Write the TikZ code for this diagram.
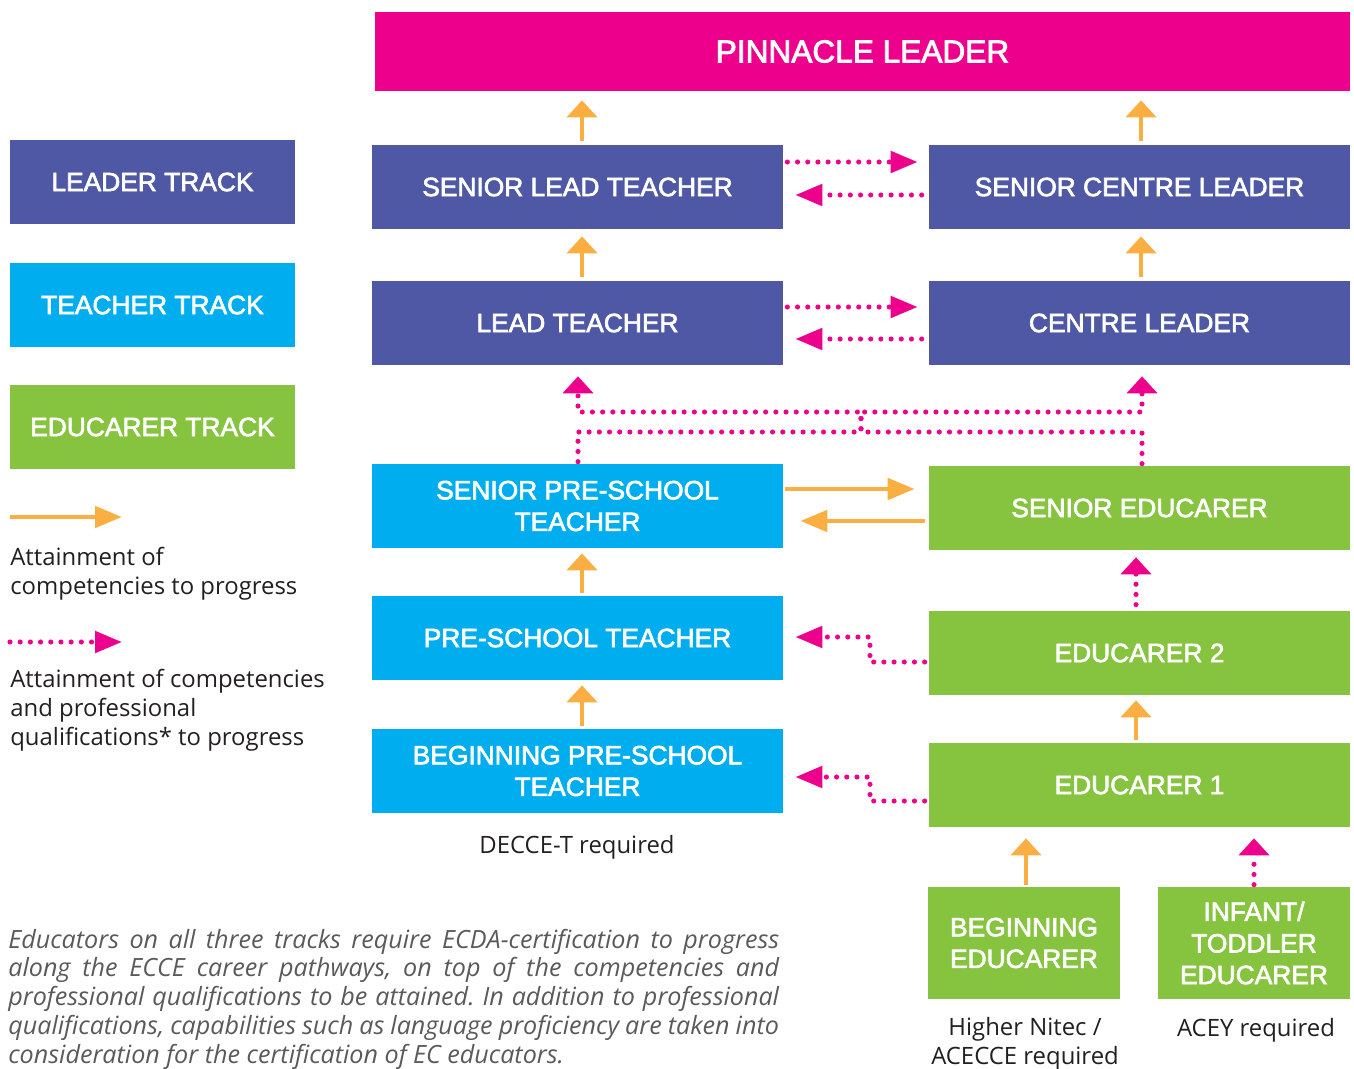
\documentclass[tikz,border=0pt]{standalone}
\usepackage{fontspec}
\setmainfont{Open Sans}
\newfontfamily\boxfont[FakeBold=2.5]{Liberation Sans}
\usetikzlibrary{arrows.meta,calc}
\definecolor{pinkc}{HTML}{EC008C}
\definecolor{leadc}{HTML}{4E58A4}
\definecolor{teachc}{HTML}{00AEEF}
\definecolor{educc}{HTML}{86C440}
\definecolor{orangec}{HTML}{FBAE42}
\definecolor{txtc}{HTML}{231F20}
\definecolor{grayc}{HTML}{5A5A5C}
\newcommand\mkbox[7]{\node[#6, minimum width={(#4-#2)*0.02cm}, minimum height={(#5-#3)*0.02cm}] (#1) at ({(#2+#4)/2},{(#3+#5)/2}) {#7};}
\tikzset{
  box/.style={inner sep=0pt, text=white, align=center, font=\boxfont\fontsize{15}{18}\selectfont},
  pinbox/.style={box, fill=pinkc, font=\boxfont\fontsize{18}{21}\selectfont},
  leadbox/.style={box, fill=leadc},
  teachbox/.style={box, fill=teachc},
  edubox/.style={box, fill=educc},
  oarr/.style={draw=orangec, line width=2.8pt, -{Triangle[length=0.54cm,width=0.42cm]}},
  oup/.style={draw=orangec, line width=2.8pt, -{Triangle[length=0.34cm,width=0.6cm]}},
  pdot/.style={draw=pinkc, line width=2.9pt, line cap=round, dash pattern=on 0pt off 5.8pt},
  parr/.style={pdot, -{Triangle[length=0.54cm,width=0.42cm,fill=pinkc]}},
  pup/.style={pdot, -{Triangle[length=0.34cm,width=0.6cm,fill=pinkc]}},
  lbl/.style={inner sep=0pt, text=txtc, font=\fontsize{13.6}{16.4}\selectfont},
}
\begin{document}
\begin{tikzpicture}[x=0.02cm,y=-0.02cm]
\useasboundingbox (0,0) rectangle (1354,1068);
% boxes
\mkbox{pin}{375}{12}{1350}{91}{pinbox}{PINNACLE LEADER}
\mkbox{trk1}{10}{140}{295}{224}{leadbox}{LEADER TRACK}
\mkbox{trk2}{10}{263}{295}{347}{teachbox}{TEACHER TRACK}
\mkbox{trk3}{10}{385}{295}{469}{edubox}{EDUCARER TRACK}
\mkbox{slt}{372}{145}{783}{229}{leadbox}{SENIOR LEAD TEACHER}
\mkbox{scl}{929}{145}{1350}{229}{leadbox}{SENIOR CENTRE LEADER}
\mkbox{lt}{372}{281}{783}{365}{leadbox}{LEAD TEACHER}
\mkbox{cl}{929}{281}{1350}{365}{leadbox}{CENTRE LEADER}
\mkbox{spst}{372}{464}{783}{548}{teachbox}{SENIOR PRE-SCHOOL\\TEACHER}
\mkbox{se}{929}{466}{1350}{550}{edubox}{SENIOR EDUCARER}
\mkbox{pst}{372}{596}{783}{680}{teachbox}{PRE-SCHOOL TEACHER}
\mkbox{e2}{929}{611}{1350}{695}{edubox}{EDUCARER 2}
\mkbox{bpst}{372}{729}{783}{813}{teachbox}{BEGINNING PRE-SCHOOL\\TEACHER}
\mkbox{e1}{929}{743}{1350}{827}{edubox}{EDUCARER 1}
\mkbox{be}{928}{887}{1120}{999}{edubox}{BEGINNING\\EDUCARER}
\mkbox{it}{1158}{887}{1350}{999}{edubox}{INFANT/\\TODDLER\\EDUCARER}
% vertical orange arrows
\draw[oup, shorten <=0.08cm, shorten >=0.18cm] (slt.north -| 582,0) -- (pin.south -| 582,0);
\draw[oup, shorten <=0.08cm, shorten >=0.18cm] (scl.north -| 1141,0) -- (pin.south -| 1141,0);
\draw[oup, shorten <=0.08cm, shorten >=0.14cm] (lt.north -| 582,0) -- (slt.south -| 582,0);
\draw[oup, shorten <=0.08cm, shorten >=0.14cm] (cl.north -| 1141,0) -- (scl.south -| 1141,0);
\draw[oup, shorten <=0.06cm, shorten >=0.1cm] (pst.north -| 582,0) -- (spst.south -| 582,0);
\draw[oup, shorten <=0.06cm, shorten >=0.1cm] (bpst.north -| 582,0) -- (pst.south -| 582,0);
\draw[oup, shorten <=0.06cm, shorten >=0.1cm] (e1.north -| 1136,0) -- (e2.south -| 1136,0);
\draw[oup, shorten <=0.04cm, shorten >=0.22cm] (be.north -| 1026,0) -- (e1.south -| 1026,0);
% vertical pink arrows
\draw[pup, shorten <=0.12cm, shorten >=0.14cm] (e2.north -| 1136,0) -- (se.south -| 1136,0);
\draw[pup, shorten <=0.04cm, shorten >=0.22cm] (it.north -| 1254,0) -- (e1.south -| 1254,0);
% horizontal pink arrows
\draw[parr, shorten <=0.08cm, shorten >=0.22cm] (slt.east |- 0,162) -- (scl.west |- 0,162);
\draw[parr, shorten <=0.14cm, shorten >=0.24cm] (scl.west |- 0,195) -- (slt.east |- 0,195);
\draw[parr, shorten <=0.08cm, shorten >=0.22cm] (lt.east |- 0,307) -- (cl.west |- 0,307);
\draw[parr, shorten <=0.14cm, shorten >=0.24cm] (cl.west |- 0,339) -- (lt.east |- 0,339);
% horizontal orange arrows
\draw[oarr, shorten <=0.04cm, shorten >=0.28cm] (spst.east |- 0,489) -- (se.west |- 0,489);
\draw[oarr, shorten <=0.08cm, shorten >=0.34cm] (se.west |- 0,521) -- (spst.east |- 0,521);
% elbow pink arrows
\draw[parr, shorten <=0.08cm, shorten >=0.24cm] (e2.west |- 0,662) -| (870,637) -- (pst.east |- 0,637);
\draw[parr, shorten <=0.08cm, shorten >=0.24cm] (e1.west |- 0,801) -| (870,777) -- (bpst.east |- 0,777);
% crossing pink arrows
\draw[pup, shorten <=0.04cm, shorten >=0.22cm] (spst.north -| 578,0) |- (861,432) |- (1142,412) -- (cl.south -| 1142,0);
\draw[pup, shorten <=0.04cm, shorten >=0.22cm] (se.north -| 1142,0) |- (861,432) |- (578,412) -- (lt.south -| 578,0);
% legend
\coordinate (la1) at (10,517); \coordinate (la2) at (122,517);
\draw[oarr] (la1) -- (la2);
\coordinate (lb1) at (10,642); \coordinate (lb2) at (122,642);
\draw[parr] (lb1) -- (lb2);
\node[lbl, anchor=base west, align=left] (leg1) at (10,594) {Attainment of\\competencies to progress};
\node[lbl, anchor=base west, align=left] (leg2) at (10,745) {Attainment of competencies\\and professional\\qualifications* to progress};
% requirement labels
\node[lbl, anchor=base] (req1) at (577,853) {DECCE-T required};
\node[lbl, anchor=base, align=center] (req2) at (1025,1064) {Higher Nitec /\\ACECCE required};
\node[lbl, anchor=base] (req3) at (1256,1036) {ACEY required};
% note
\node[inner sep=0pt, anchor=base west, text width=15.42cm, align=justify, text=grayc, font=\itshape\fontsize{14.3}{16.4}\selectfont] (note) at (8,948) {\frenchspacing Educators on all three tracks require ECDA-certification to progress\linebreak along the ECCE career pathways, on top of the competencies and\linebreak professional qualifications to be attained. In addition to professional\linebreak qualifications, capabilities such as language proficiency are taken into\linebreak consideration for the certification of EC educators.};
\end{tikzpicture}
\end{document}
